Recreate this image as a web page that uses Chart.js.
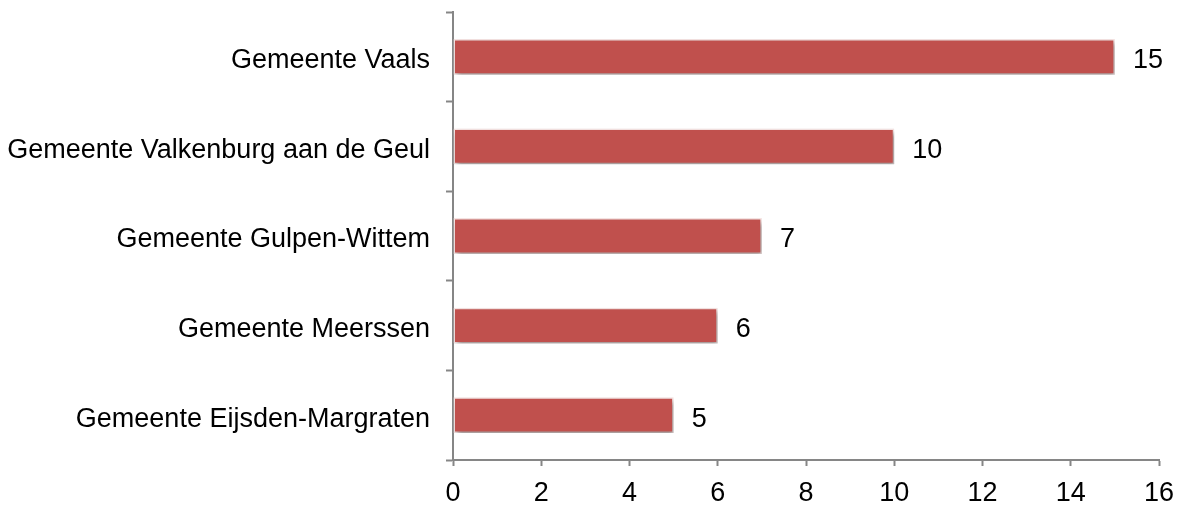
<!DOCTYPE html>
<html>
<head>
<meta charset="utf-8">
<script src="https://cdn.jsdelivr.net/npm/chart.js@4.4.0/dist/chart.umd.min.js"></script>
<style>
  html, body { margin: 0; padding: 0; background: #fff; }
  #wrap { width: 1181px; height: 505px; }
</style>
</head>
<body>
<div id="wrap"><canvas id="myChart"></canvas></div>
<script>
const categories = [
    'Gemeente Vaals',
    'Gemeente Valkenburg aan de Geul',
    'Gemeente Gulpen-Wittem',
    'Gemeente Meerssen',
    'Gemeente Eijsden-Margraten'
];
const counts = [15, 10, 7, 6, 5];
const xTicks = [0, 2, 4, 6, 8, 10, 12, 14, 16];

const axisGrey = '#868686';
const fontFamily = '"Liberation Sans", Arial, sans-serif';

// soft drop shadow under the bars
const shadowPlugin = {
    id: 'shadow',
    beforeDatasetDraw(chart) {
        const ctx = chart.ctx;
        ctx.save();
        ctx.shadowColor = 'rgba(0,0,0,0.4)';
        ctx.shadowBlur = 5;
        ctx.shadowOffsetX = 2;
        ctx.shadowOffsetY = 3;
    },
    afterDatasetDraw(chart) {
        chart.ctx.restore();
    }
};

// value labels at the end of each bar
const valueLabels = {
    id: 'valueLabels',
    afterDatasetsDraw(chart) {
        const ctx = chart.ctx;
        const meta = chart.getDatasetMeta(0);
        ctx.save();
        ctx.font = '27px ' + fontFamily;
        ctx.fillStyle = '#000';
        ctx.textBaseline = 'middle';
        ctx.textAlign = 'left';
        meta.data.forEach((bar, i) => {
            ctx.fillText(String(counts[i]), bar.x + 18, bar.y + 4);
        });
        ctx.restore();
    }
};

const ctx = document.getElementById('myChart').getContext('2d');
const chart = new Chart(ctx, {
    type: 'bar',
    data: {
        labels: categories,
        datasets: [{
            data: counts,
            backgroundColor: '#C0504D',
            borderColor: '#F6E4E3',
            borderWidth: 1.5,
            borderSkipped: false,
            barPercentage: 0.4,
            categoryPercentage: 1.0
        }]
    },
    options: {
        indexAxis: 'y',
        responsive: true,
        maintainAspectRatio: false,
        animation: false,
        layout: { padding: { top: 12, right: 22, left: 0, bottom: 0 } },
        plugins: {
            legend: { display: false },
            tooltip: { enabled: false }
        },
        scales: {
            x: {
                min: 0,
                max: 16,
                afterBuildTicks: (scale) => {
                    scale.ticks = xTicks.map(v => ({ value: v }));
                },
                afterFit: (scale) => {
                    scale.height = 45;
                    scale.paddingLeft = 0;
                    scale.paddingRight = 0;
                },
                grid: {
                    drawOnChartArea: false,
                    drawTicks: true,
                    tickLength: 6,
                    tickWidth: 2,
                    color: axisGrey
                },
                border: { color: axisGrey, width: 2 },
                ticks: {
                    color: '#000',
                    padding: 11,
                    font: { family: fontFamily, size: 27 }
                }
            },
            y: {
                afterFit: (scale) => {
                    scale.width = 453;
                    scale.paddingTop = 0;
                    scale.paddingBottom = 0;
                },
                grid: {
                    offset: true,
                    drawOnChartArea: false,
                    drawTicks: true,
                    tickLength: 7,
                    tickWidth: 2,
                    color: axisGrey
                },
                border: { color: axisGrey, width: 2 },
                ticks: {
                    color: '#000',
                    padding: 16,
                    labelOffset: 4,
                    font: { family: fontFamily, size: 27 }
                }
            }
        }
    },
    plugins: [shadowPlugin, valueLabels]
});
</script>
</body>
</html>
